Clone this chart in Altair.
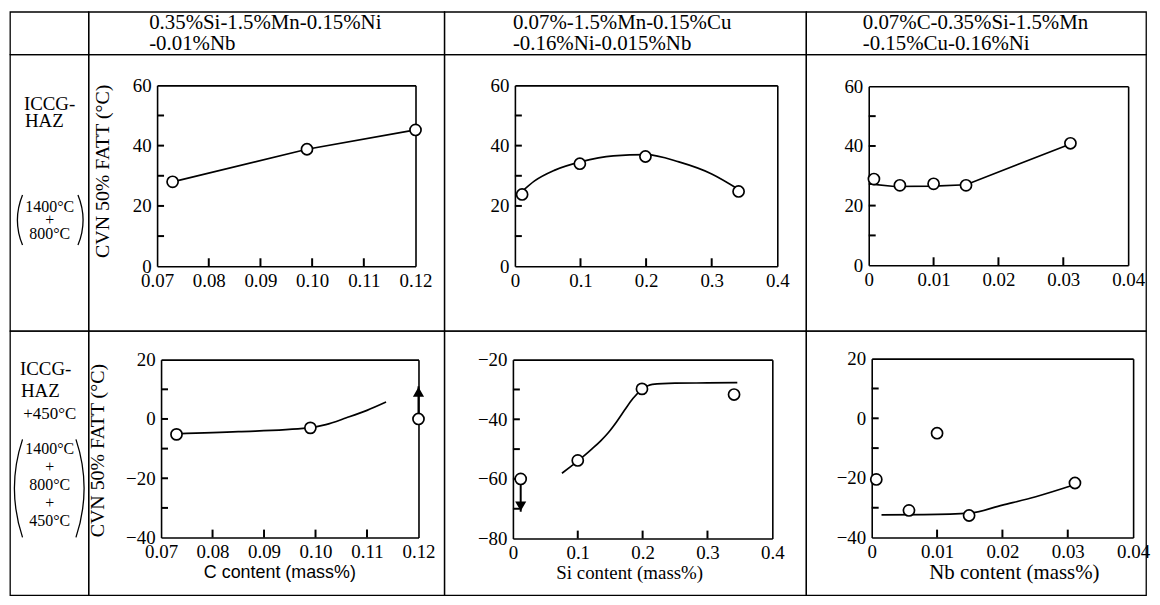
import math
import altair as alt
import pandas as pd

# ---------------- data ----------------
# Row 1 : ICCG-HAZ (1400C + 800C)
c_top_x = [0.073, 0.099, 0.120]
c_top_y = [28.0, 38.8, 45.2]
c_top_fit_x = [0.073, 0.099, 0.120]
c_top_fit_y = [28.0, 38.8, 45.2]

si_top_x = [0.011, 0.099, 0.199, 0.341]
si_top_y = [23.8, 34.0, 36.4, 24.8]
si_top_fit_x = [0.010, 0.030, 0.060, 0.100, 0.150, 0.200, 0.250, 0.300, 0.340]
si_top_fit_y = [24.6, 28.3, 31.8, 34.6, 36.6, 37.0, 34.6, 30.6, 25.6]

nb_top_x = [0.0008, 0.0048, 0.0100, 0.0150, 0.0311]
nb_top_y = [28.9, 26.8, 27.3, 26.8, 40.9]
nb_top_fit_x = [0.0, 0.004, 0.010, 0.015, 0.031]
nb_top_fit_y = [27.3, 26.4, 26.5, 27.0, 40.6]

# Row 2 : ICCG-HAZ + 450C
c_bot_x = [0.073, 0.099, 0.120]
c_bot_y = [-5.2, -3.0, 0.0]
c_bot_fit_x = [0.073, 0.085, 0.0985, 0.102, 0.106, 0.110, 0.1137]
c_bot_fit_y = [-5.0, -4.3, -3.0, -1.9, 0.4, 2.9, 5.7]
c_bot_arrow_x = [0.120]
c_bot_arrow_from = [1.8]
c_bot_arrow_to = [11.0]

si_bot_x = [0.012, 0.100, 0.199, 0.341]
si_bot_y = [-60.0, -53.8, -29.8, -31.7]
si_bot_fit_x = [0.0756, 0.090, 0.100, 0.110, 0.1215, 0.135, 0.147, 0.160, 0.172, 0.185,
                0.200, 0.215, 0.250, 0.300, 0.346]
si_bot_fit_y = [-58.1, -55.7, -54.0, -52.2, -50.0, -47.3, -44.5, -40.8, -37.0, -33.0,
                -29.8, -28.3, -27.9, -27.8, -27.7]
si_bot_arrow_x = [0.012]
si_bot_arrow_from = [-61.8]
si_bot_arrow_to = [-71.0]

nb_bot_x = [0.0007, 0.0057, 0.0100, 0.0149, 0.0311]
nb_bot_y = [-20.5, -30.9, -5.0, -32.6, -21.7]
nb_bot_fit_x = [0.0015, 0.008, 0.015, 0.020, 0.0251, 0.031]
nb_bot_fit_y = [-32.4, -32.3, -31.8, -29.1, -26.3, -22.3]

# tick values / labels
c_ticks = [0.07, 0.08, 0.09, 0.10, 0.11, 0.12]
si_ticks = [0.0, 0.1, 0.2, 0.3, 0.4]
nb_ticks = [0.0, 0.01, 0.02, 0.03, 0.04]
top_y_labels = [0, 20, 40, 60]
top_y_minor = [10, 20, 30, 40, 50]
c_bot_y_labels = [-40, -20, 0, 20]
c_bot_y_minor = [-30, -20, -10, 0, 10]
si_bot_y_labels = [-80, -60, -40, -20]
si_bot_y_minor = [-70, -60, -50, -40, -30]

headers = [
    ["0.35%Si-1.5%Mn-0.15%Ni", "-0.01%Nb"],
    ["0.07%-1.5%Mn-0.15%Cu", "-0.16%Ni-0.015%Nb"],
    ["0.07%C-0.35%Si-1.5%Mn", "-0.15%Cu-0.16%Ni"],
]
y_title = "CVN 50% FATT (°C)"
x_titles = ["C content  (mass%)", "Si content  (mass%)", "Nb content  (mass%)"]

SERIF = "Liberation Serif"
SANS = "Liberation Sans"
ONE = pd.DataFrame({"k": [0]})

COLW = [79, 358, 364, 342]
ROWH = [43, 278, 266]

YLAB = "datum.value < 0 ? '\u2212' + format(-datum.value, 'd') : format(datum.value, 'd')"
FMT_C = "format(datum.value, '.2f')"
FMT_SI = "datum.value == 0 ? '0' : format(datum.value, '.1f')"
FMT_NB = "datum.value == 0 ? '0' : format(datum.value, '.2f')"


def panel(px, py, fx, fy, xdom, ydom, W, H, box, xlab, xfmt, ylab, yminor,
          interp="monotone", ytitle=None, xtitle=None, arrow=None):
    L, R, T, B = box
    pts = pd.DataFrame({"x": px, "y": py})
    fit = pd.DataFrame({"x": fx, "y": fy})
    xs = alt.Scale(domain=xdom, range=[L, R], nice=False, zero=False)
    ys = alt.Scale(domain=ydom, range=[B, T], nice=False, zero=False)

    common = dict(grid=False, zindex=0)
    xa = dict(orient="bottom", offset=B - H, values=xlab, labelExpr=xfmt, ticks=False,
              tickSize=0, domain=True, domainColor="black", domainWidth=1.6,
              labelFont=SERIF, labelFontSize=19, labelColor="black", labelPadding=5,
              labelFlush=False, labelOverlap=False, **common)
    if xtitle is not None:
        xa.update(title=xtitle[0], titleFont=xtitle[1], titleFontSize=xtitle[2],
                  titleFontWeight="normal", titleColor="black", titleX=xtitle[3],
                  titleY=xtitle[4] - B, titleAlign="center", titleBaseline="middle",
                  titleAngle=0)
    else:
        xa.update(title=None)
    ya = dict(orient="left", offset=-L, values=ylab, labelExpr=YLAB, ticks=False,
              tickSize=0, domain=True, domainColor="black", domainWidth=1.6,
              labelFont=SERIF, labelFontSize=19, labelColor="black", labelPadding=6,
              labelFlush=False, labelOverlap=False, **common)
    if ytitle is not None:
        ya.update(title=y_title, titleFont=SERIF, titleFontSize=20,
                  titleFontWeight="normal", titleColor="black", titleAngle=270,
                  titleX=ytitle[0] - L, titleY=ytitle[1], titleAlign="center",
                  titleBaseline="middle")
    else:
        ya.update(title=None)

    points = alt.Chart(pts).mark_point(
        shape="circle", filled=True, fill="white", stroke="black", strokeWidth=1.7,
        size=125, opacity=1
    ).encode(
        x=alt.X("x:Q", scale=xs, axis=alt.Axis(**xa)),
        y=alt.Y("y:Q", scale=ys, axis=alt.Axis(**ya)),
    )

    line = alt.Chart(fit).mark_line(color="black", strokeWidth=1.7, interpolate=interp).encode(
        x=alt.X("x:Q", scale=xs, axis=None),
        y=alt.Y("y:Q", scale=ys, axis=None),
    )

    # top and right frame lines
    xf = alt.Axis(orient="top", offset=-T, labels=False, ticks=False, domain=True,
                  domainColor="black", domainWidth=1.6, title=None, **common)
    yf = alt.Axis(orient="right", offset=R - W, labels=False, ticks=False, domain=True,
                  domainColor="black", domainWidth=1.6, title=None, **common)
    frame = alt.Chart(pts).mark_point(opacity=0).encode(
        x=alt.X("x:Q", scale=xs, axis=xf),
        y=alt.Y("y:Q", scale=ys, axis=yf),
    )

    # inward tick marks: tick length converted from pixels to data units
    ty = (ydom[1] - ydom[0]) * 8.0 / (B - T)
    tx = (xdom[1] - xdom[0]) * 7.0 / (R - L)
    xin = xlab[1:-1]
    xtd = pd.DataFrame({"x": xin, "y0": [ydom[0]] * len(xin), "y1": [ydom[0] + ty] * len(xin)})
    ytd = pd.DataFrame({"y": yminor, "x0": [xdom[0]] * len(yminor), "x1": [xdom[0] + tx] * len(yminor)})
    xt = alt.Chart(xtd).mark_rule(color="black", strokeWidth=2).encode(
        x=alt.X("x:Q", scale=xs, axis=None),
        y=alt.Y("y0:Q", scale=ys, axis=None),
        y2="y1:Q",
    )
    yt = alt.Chart(ytd).mark_rule(color="black", strokeWidth=2).encode(
        y=alt.Y("y:Q", scale=ys, axis=None),
        x=alt.X("x0:Q", scale=xs, axis=None),
        x2="x1:Q",
    )

    layers = [frame, xt, yt, line, points]
    if arrow is not None:
        ax, a0, a1, up = arrow
        adf = pd.DataFrame({"x": ax, "y0": a0, "y1": a1})
        shaft = alt.Chart(adf).mark_rule(color="black", strokeWidth=2).encode(
            x=alt.X("x:Q", scale=xs, axis=None),
            y=alt.Y("y0:Q", scale=ys, axis=None),
            y2="y1:Q",
        )
        head = alt.Chart(adf).mark_point(
            shape="triangle-up" if up else "triangle-down", filled=True, fill="black",
            stroke="black", size=60, opacity=1,
            yOffset=6 if up else -6,
        ).encode(
            x=alt.X("x:Q", scale=xs, axis=None),
            y=alt.Y("y1:Q", scale=ys, axis=None),
        )
        layers += [shaft, head]

    return alt.layer(*layers).resolve_axis(x="independent", y="independent").properties(
        width=W, height=H)


def txt(t, x, y, size=19, align="center", font=SERIF):
    return alt.Chart(ONE).mark_text(
        text=t, align=align, baseline="middle", font=font, fontSize=size, color="black",
    ).encode(x=alt.value(x), y=alt.value(y))


def paren(cx, cy, r, a, left):
    mid = 1.5 * math.pi if left else 0.5 * math.pi
    return alt.Chart(ONE).mark_arc(color="black").encode(
        x=alt.value(cx), y=alt.value(cy), radius=alt.value(r), radius2=alt.value(r - 1.3),
        theta=alt.value(mid - a), theta2=alt.value(mid + a),
    )


def cell(W, H, items):
    return alt.layer(*items).properties(width=W, height=H)


# ---------------- header row ----------------
hdr_x = [61, 69, 57]
cells = [cell(COLW[0], ROWH[0], [txt(" ", 10, 10)])]
for i in range(3):
    cells.append(cell(COLW[i + 1], ROWH[0], [
        txt(headers[i][0], hdr_x[i], 11, size=21, align="left"),
        txt(headers[i][1], hdr_x[i], 32, size=21, align="left"),
    ]))

# ---------------- row 1 ----------------
a1 = math.asin(25.5 / 67.5)
lab1 = cell(COLW[0], ROWH[1], [
    txt("ICCG-", 14, 50, align="left"),
    txt("HAZ", 15, 67, align="left"),
    txt("1400°C", 40, 153, size=16),
    txt("+", 40, 167, size=16),
    txt("800°C", 40, 181, size=16),
    paren(7 + 67.5, 166.5, 67.5, a1, True),
    paren(74 - 67.5, 166.5, 67.5, a1, False),
])
H1 = ROWH[1]
p11 = panel(c_top_x, c_top_y, c_top_fit_x, c_top_fit_y, [0.07, 0.12], [0, 60], COLW[1], H1,
            (69, 329, 31, 213), c_ticks, FMT_C, top_y_labels, top_y_minor, interp="linear",
            ytitle=(14, 117))
p12 = panel(si_top_x, si_top_y, si_top_fit_x, si_top_fit_y, [0, 0.4], [0, 60], COLW[2], H1,
            (71, 335, 31, 213), si_ticks, FMT_SI, top_y_labels, top_y_minor)
p13 = panel(nb_top_x, nb_top_y, nb_top_fit_x, nb_top_fit_y, [0, 0.04], [0, 60], COLW[3], H1,
            (63, 324, 32, 212), nb_ticks, FMT_NB, top_y_labels, top_y_minor, interp="linear")
cells += [lab1, p11, p12, p13]

# ---------------- row 2 ----------------
a2 = math.asin(49.5 / 157)
lab2 = cell(COLW[0], ROWH[2], [
    txt("ICCG-", 10, 38, align="left"),
    txt("HAZ", 11, 61, align="left"),
    txt("+450°C", 40, 84, size=17),
    txt("1400°C", 40, 119, size=16),
    txt("+", 40, 137, size=16),
    txt("800°C", 40, 155, size=16),
    txt("+", 40, 173, size=16),
    txt("450°C", 40, 191, size=16),
    paren(4 + 157, 158.5, 157, a2, True),
    paren(75 - 157, 158.5, 157, a2, False),
])
H2 = ROWH[2]
p21 = panel(c_bot_x, c_bot_y, c_bot_fit_x, c_bot_fit_y, [0.07, 0.12], [-40, 20], COLW[1], H2,
            (73, 332, 29, 208), c_ticks, FMT_C, c_bot_y_labels, c_bot_y_minor,
            ytitle=(9, 120), xtitle=(x_titles[0], SANS, 18, 192, 243),
            arrow=(c_bot_arrow_x, c_bot_arrow_from, c_bot_arrow_to, True))
p22 = panel(si_bot_x, si_bot_y, si_bot_fit_x, si_bot_fit_y, [0, 0.4], [-80, -20], COLW[2], H2,
            (69, 330, 29, 209), si_ticks, FMT_SI, si_bot_y_labels, si_bot_y_minor,
            xtitle=(x_titles[1], SERIF, 19, 186, 243),
            arrow=(si_bot_arrow_x, si_bot_arrow_from, si_bot_arrow_to, False))
p23 = panel(nb_bot_x, nb_bot_y, nb_bot_fit_x, nb_bot_fit_y, [0, 0.04], [-40, 20], COLW[3], H2,
            (66, 329, 28, 208), nb_ticks, FMT_NB, c_bot_y_labels, c_bot_y_minor,
            xtitle=(x_titles[2], SERIF, 21, 209, 243))
cells += [lab2, p21, p22, p23]

chart = alt.concat(*cells, columns=4, spacing=0, bounds="flush").properties(
    padding={"left": 1, "top": 1, "right": 1, "bottom": 1}
).configure(background="white").configure_view(stroke="black", strokeWidth=1.3)

chart.save("out.html", embed_options={"renderer": "svg", "actions": False})
